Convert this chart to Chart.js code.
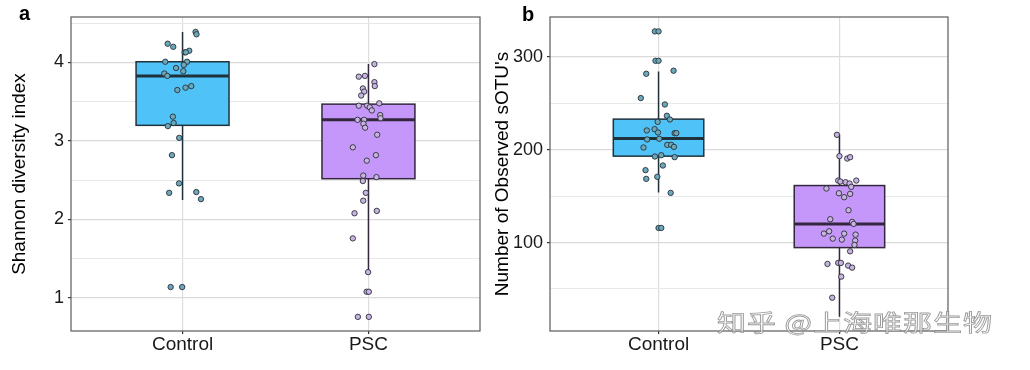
<!DOCTYPE html>
<html lang="en">
<head>
<meta charset="utf-8">
<title>Shannon / sOTU</title>
<script src="https://cdn.jsdelivr.net/npm/chart.js@4.4.1/dist/chart.umd.min.js"></script>
<style>
  body { margin: 0; background: #fff; }
  #lienzo { position: relative; width: 1030px; height: 370px; overflow: hidden; }
  #lienzo canvas { position: absolute; top: 0; }
  .letra { position: absolute; font: bold 20px "Liberation Sans", Arial, sans-serif; line-height: 20px; color: #000; }
  #marca {
    position: absolute; left: 717px; top: 307px;
    font: 29px "Noto Sans CJK SC", sans-serif; line-height: 29px; white-space: pre;
    color: rgba(255, 255, 255, 0.6); -webkit-text-stroke: 1px rgba(120, 120, 120, 0.75);
    transform: scaleY(0.78); transform-origin: left center; letter-spacing: 1px;
  }
</style>
</head>
<body>
<div id="lienzo">
  <canvas id="graficaA" width="490" height="370" style="left:0"></canvas>
  <canvas id="graficaB" width="540" height="370" style="left:490px"></canvas>
  <div class="letra" style="left:19px; top:3px">a</div>
  <div class="letra" style="left:522px; top:4px">b</div>
  <div id="marca">知乎 @上海唯那生物</div>
</div>
<script>
const categorias = ['Control', 'PSC'];

// Panel a: índice de diversidad de Shannon
const shannonControl = [4.39, 4.36, 4.24, 4.20, 4.15, 4.13, 4.13, 4.01, 4.01, 3.97, 3.93, 3.89, 3.86, 3.83,
    3.70, 3.68, 3.65, 3.31, 3.23, 3.19, 3.04, 2.82, 2.46, 2.34, 2.35, 2.26, 1.14, 1.14];
const shannonControlJitter = [0.070, 0.075, -0.080, -0.050, 0.036, 0.011, 0.018, -0.093, 0.024, 0.007, -0.035, 0.004, -0.098, -0.082,
    0.047, 0.016, -0.028, -0.052, -0.048, -0.079, -0.018, -0.057, -0.019, -0.072, 0.074, 0.099, -0.064, -0.002];
const shannonPSC = [3.98, 3.82, 3.83, 3.75, 3.70, 3.67, 3.63, 3.58, 3.48, 3.45, 3.45, 3.43, 3.39, 3.33, 3.29, 3.27, 3.27, 3.22,
    3.17, 3.08, 2.92, 2.82, 2.75, 2.56, 2.54, 2.49, 2.34, 2.24, 2.11, 2.08, 1.76, 1.33, 1.08, 1.08, 0.76, 0.76];
const shannonPSCJitter = [0.032, -0.052, -0.019, 0.032, 0.034, -0.030, -0.023, -0.039, 0.058, -0.052, -0.007, 0.007, 0.018, 0.063, 0.065, -0.059, -0.023, -0.027,
    -0.018, 0.047, -0.084, 0.040, -0.009, -0.028, 0.043, -0.030, -0.014, -0.028, 0.045, -0.075, -0.084, -0.002, -0.010, 0.002, -0.057, 0.002];
const shannonQ1 = [3.20, 2.52];
const shannonMediana = [3.83, 3.27];
const shannonQ3 = [4.01, 3.47];
const shannonBigoteInf = [2.25, 1.33];
const shannonBigoteSup = [4.39, 3.98];
const shannonTicks = [1, 2, 3, 4];
const shannonTicksMenores = [1.5, 2.5, 3.5, 4.5];

// Panel b: número de sOTUs observados
const sotuControl = [327.7, 327.7, 296, 296, 282, 285.3, 255.8, 248.9, 236.7, 232.7, 230.2, 222.3, 220.9, 218.7, 218, 218,
    211.2, 211.9, 202.5, 205.4, 205.4, 203.2, 192.8, 194.2, 192.1, 183.1, 178.1, 168.7, 170.9, 153.6, 115.8, 115.8];
const sotuControlJitter = [-0.020, 0.000, -0.017, 0.000, -0.068, 0.083, -0.098, 0.035, 0.046, 0.063, -0.005, -0.022, -0.065, -0.003, 0.089, 0.098,
    -0.063, 0.004, -0.083, 0.048, 0.070, 0.085, -0.020, 0.015, 0.089, 0.024, -0.072, -0.068, -0.007, 0.067, 0.000, 0.015];
const sotuPSC = [216.2, 193.2, 190.6, 192.1, 166.9, 165.8, 165.1, 163.7, 166.9, 160.1, 158.3, 153.2, 152.5, 148.9, 134.9, 125.2, 122.3,
    120.1, 112.2, 109.7, 109.7, 108.6, 104.3, 103.2, 102.2, 97.5, 90.6, 77, 78.1, 78.1, 75.2, 73, 63.3, 40.6];
const sotuPSCJitter = [-0.014, 0.000, 0.043, 0.059, -0.007, 0.005, 0.034, 0.056, 0.093, 0.065, -0.072, -0.003, 0.059, 0.026, 0.050, -0.051, 0.070,
    0.078, -0.057, -0.086, 0.026, 0.089, -0.037, 0.013, 0.087, 0.083, 0.059, -0.066, -0.007, 0.008, 0.048, 0.070, 0.010, -0.040];
const sotuQ1 = [193.2, 94.6];
const sotuMediana = [212.2, 120.1];
const sotuQ3 = [233.1, 161.5];
const sotuBigoteInf = [153.9, 20.1];
const sotuBigoteSup = [284.5, 216.9];
const sotuTicks = [100, 200, 300];
const sotuTicksMenores = [50, 150, 250];

const rellenoCaja = ['#4fc3f7', '#c697fa'];
const bordeCaja = ['#1f323b', '#32273c'];
const rellenoPunto = ['#6aa9bb', '#c9b3e2'];

Chart.defaults.font.family = "'Liberation Sans', Arial, sans-serif";

function puntos(valores, jitter, centro) {
    return valores.map((v, i) => ({ x: centro + jitter[i], y: v }));
}

// cajas y bigotes dibujados con las escalas de la gráfica
const cajasPlugin = {
    id: 'cajas',
    beforeDatasetsDraw(chart, args, opts) {
        const ctx = chart.ctx;
        const x = chart.scales.x;
        const y = chart.scales.y;
        categorias.forEach((cat, i) => {
            const centro = i + 1;
            const xm = x.getPixelForValue(centro);
            const x0 = x.getPixelForValue(centro - 0.25);
            const x1 = x.getPixelForValue(centro + 0.25);
            const yQ1 = y.getPixelForValue(opts.q1[i]);
            const yQ3 = y.getPixelForValue(opts.q3[i]);
            const yMed = y.getPixelForValue(opts.mediana[i]);
            const yInf = y.getPixelForValue(opts.inf[i]);
            const ySup = y.getPixelForValue(opts.sup[i]);
            ctx.save();
            ctx.strokeStyle = bordeCaja[i];
            ctx.lineWidth = 1.5;
            ctx.beginPath();
            ctx.moveTo(xm, yQ3); ctx.lineTo(xm, ySup);
            ctx.moveTo(xm, yQ1); ctx.lineTo(xm, yInf);
            ctx.stroke();
            ctx.fillStyle = rellenoCaja[i];
            ctx.fillRect(x0, yQ3, x1 - x0, yQ1 - yQ3);
            ctx.strokeRect(x0, yQ3, x1 - x0, yQ1 - yQ3);
            ctx.lineWidth = 3;
            ctx.beginPath();
            ctx.moveTo(x0, yMed); ctx.lineTo(x1, yMed);
            ctx.stroke();
            ctx.restore();
        });
    },
    afterDraw(chart) {
        const ctx = chart.ctx;
        const a = chart.chartArea;
        ctx.save();
        ctx.strokeStyle = '#5a5a5a';
        ctx.lineWidth = 1.2;
        ctx.strokeRect(a.left, a.top, a.right - a.left, a.bottom - a.top);
        ctx.restore();
    }
};

function crearPanel(id, cfg) {
    const ctx = document.getElementById(id).getContext('2d');
    const todos = [...cfg.ticks, ...cfg.menores].sort((a, b) => a - b);
    const esMayor = v => cfg.ticks.includes(v);
    const estiloPunto = i => ({
        backgroundColor: rellenoPunto[i],
        borderColor: '#2a2f38',
        borderWidth: 0.9,
        pointRadius: 2.7
    });
    return new Chart(ctx, {
        type: 'scatter',
        data: {
            datasets: [
                Object.assign({ data: puntos(cfg.control, cfg.controlJitter, 1) }, estiloPunto(0)),
                Object.assign({ data: puntos(cfg.psc, cfg.pscJitter, 2) }, estiloPunto(1))
            ]
        },
        plugins: [cajasPlugin],
        options: {
            responsive: false,
            animation: false,
            devicePixelRatio: 1,
            events: [],
            layout: { padding: { left: 0, right: cfg.derecha, top: 17, bottom: 0 } },
            plugins: {
                legend: { display: false },
                tooltip: { enabled: false },
                cajas: { q1: cfg.q1, q3: cfg.q3, mediana: cfg.mediana, inf: cfg.inf, sup: cfg.sup }
            },
            scales: {
                x: {
                    type: 'linear',
                    min: 0.4,
                    max: 2.6,
                    afterBuildTicks: s => { s.ticks = categorias.map((c, i) => ({ value: i + 1 })); },
                    afterFit: s => { s.height = 39; },
                    border: { display: false },
                    grid: { color: '#dedede', lineWidth: 1.2, tickLength: 3, tickColor: '#333' },
                    ticks: {
                        callback: v => categorias[v - 1],
                        color: '#1a1a1a',
                        font: { size: 19, lineHeight: 1.1 },
                        padding: 0,
                        maxRotation: 0,
                        autoSkip: false
                    }
                },
                y: {
                    min: cfg.min,
                    max: cfg.max,
                    afterBuildTicks: s => { s.ticks = todos.map(v => ({ value: v })); },
                    afterFit: s => { s.width = cfg.anchoEje; },
                    border: { display: false },
                    grid: {
                        color: c => esMayor(c.tick.value) ? '#dadada' : '#e8e8e8',
                        lineWidth: c => esMayor(c.tick.value) ? 1.2 : 1,
                        tickLength: 3,
                        tickColor: c => esMayor(c.tick.value) ? '#333' : 'rgba(0,0,0,0)'
                    },
                    ticks: {
                        callback: v => esMayor(v) ? v : '',
                        color: '#1a1a1a',
                        font: { size: 18 },
                        padding: 4,
                        autoSkip: false
                    },
                    title: {
                        display: true,
                        text: cfg.titulo,
                        color: '#000',
                        font: { size: 19 },
                        padding: { top: cfg.tituloPad, bottom: 0 }
                    }
                }
            }
        }
    });
}

crearPanel('graficaA', {
    control: shannonControl, controlJitter: shannonControlJitter,
    psc: shannonPSC, pscJitter: shannonPSCJitter,
    q1: shannonQ1, q3: shannonQ3, mediana: shannonMediana, inf: shannonBigoteInf, sup: shannonBigoteSup,
    ticks: shannonTicks, menores: shannonTicksMenores,
    min: 0.58, max: 4.58,
    titulo: 'Shannon diversity index', tituloPad: 8.6,
    anchoEje: 71, derecha: 10
});

crearPanel('graficaB', {
    control: sotuControl, controlJitter: sotuControlJitter,
    psc: sotuPSC, pscJitter: sotuPSCJitter,
    q1: sotuQ1, q3: sotuQ3, mediana: sotuMediana, inf: sotuBigoteInf, sup: sotuBigoteSup,
    ticks: sotuTicks, menores: sotuTicksMenores,
    min: 4.7, max: 343.2,
    titulo: "Number of Observed sOTU's", tituloPad: 1,
    anchoEje: 60, derecha: 82
});
</script>
</body>
</html>
